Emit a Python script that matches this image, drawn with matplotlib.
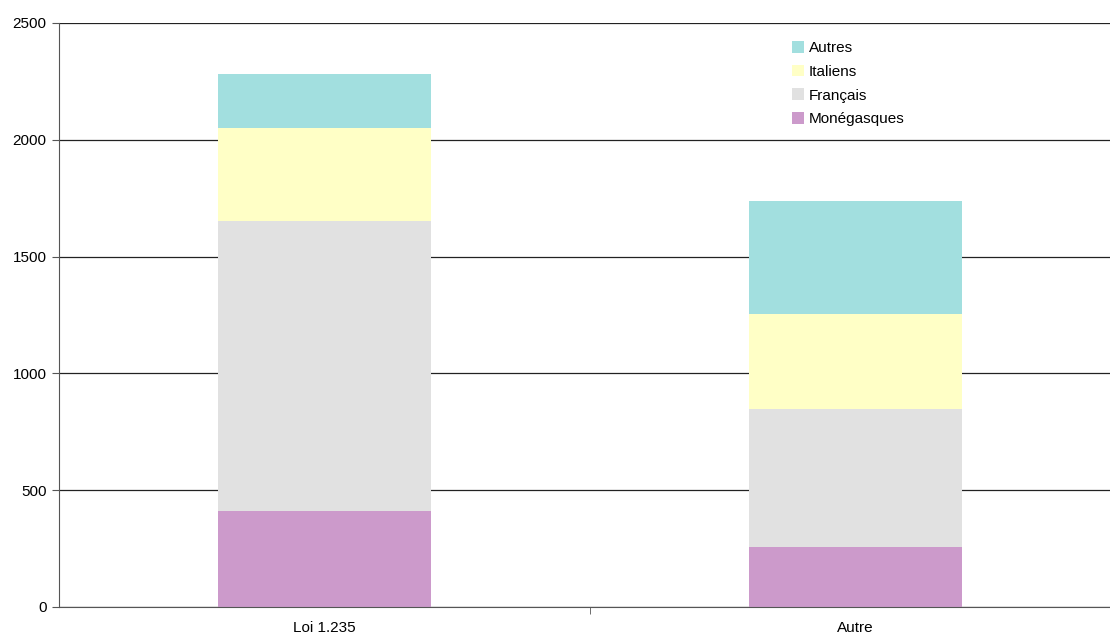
import matplotlib
matplotlib.use('Agg')
import matplotlib.pyplot as plt
import numpy as np

plt.rcParams['font.family'] = ['Liberation Sans', 'DejaVu Sans']

# Data
categories = ['Loi 1.235', 'Autre']
series_names = ['Monégasques', 'Français', 'Italiens', 'Autres']
monegasques = [411, 257]
francais = [1241, 591]
italiens = [398, 406]
autres = [232, 484]
colors = ['#cc9acb', '#e1e1e1', '#ffffc6', '#a2dfdf']

fig = plt.figure(figsize=(11.10, 6.37), dpi=100)
ax = fig.add_axes([59 / 1110, 1 - 607 / 637, (1121 - 59) / 1110, (607 - 23) / 637])

x = np.arange(len(categories))
bottom = np.zeros(len(categories))
handles = []
for name, vals, c in zip(series_names, [monegasques, francais, italiens, autres], colors):
    b = ax.bar(x, vals, width=0.4, bottom=bottom, color=c, label=name, zorder=2)
    handles.append(b)
    bottom += np.array(vals)

ax.set_xlim(-0.5, 1.5)
ax.set_ylim(0, 2500)
ax.set_yticks([0, 500, 1000, 1500, 2000, 2500])
ax.yaxis.grid(True, color='#222222', linewidth=0.9, zorder=1)
ax.set_axisbelow(True)

ax.set_xticks(x)
ax.set_xticklabels(categories, fontsize=11)
ax.tick_params(axis='x', length=0, pad=10)
ax.set_xticks([0.5], minor=True)
ax.tick_params(axis='x', which='minor', length=5, color='#555555')
ax.tick_params(axis='y', length=5, color='#555555', labelsize=11, pad=4)

for s in ['top', 'right']:
    ax.spines[s].set_visible(False)
ax.spines['left'].set_color('#555555')
ax.spines['bottom'].set_color('#555555')

ax.legend(handles[::-1], series_names[::-1], loc='upper left',
          bbox_to_anchor=(786 / 1110, 1 - 35 / 637), bbox_transform=fig.transFigure,
          frameon=False, fontsize=11, handlelength=0.8, handleheight=0.8,
          handletextpad=0.3, labelspacing=0.62, borderaxespad=0)

fig.savefig('out.png', dpi=100)
